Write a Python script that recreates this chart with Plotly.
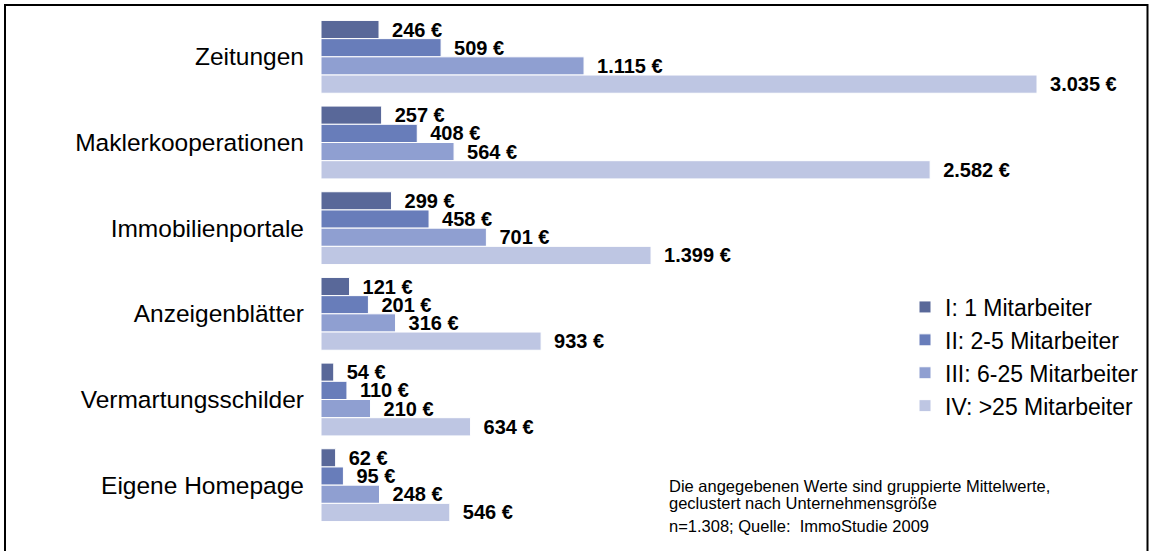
import plotly.graph_objects as go

categories = ["Zeitungen", "Maklerkooperationen", "Immobilienportale",
              "Anzeigenblätter", "Vermartungsschilder", "Eigene Homepage"]
series_names = ["I: 1 Mitarbeiter", "II: 2-5 Mitarbeiter",
                "III: 6-25 Mitarbeiter", "IV: >25 Mitarbeiter"]
s1 = [246, 257, 299, 121, 54, 62]
s2 = [509, 408, 458, 201, 110, 95]
s3 = [1115, 564, 701, 316, 210, 248]
s4 = [3035, 2582, 1399, 933, 634, 546]
colors = ["rgb(89,104,153)", "rgb(104,125,186)", "rgb(143,159,209)", "rgb(190,198,227)"]

note_lines = ["Die angegebenen Werte sind gruppierte Mittelwerte,",
              "geclustert nach Unternehmensgröße",
              "n=1.308; Quelle:  ImmoStudie 2009"]

FONT = "Liberation Sans, Arial, sans-serif"
W, H = 1149, 551
# plot area in page pixels: x 321..1147, y 14..528
ML = 321
MR = W - 1147
MT = 14
MB = H - 528
PW, PH = W - ML - MR, H - MT - MB


def fmt(v):
    return "\u2002" + f"{v:,}".replace(",", ".") + " €"


def px_x(p):
    return (p - ML) / PW


def px_y(p):
    return (H - MB - p) / PH


fig = go.Figure()
for name, vals, col in zip(series_names, [s1, s2, s3, s4], colors):
    fig.add_trace(go.Bar(
        y=categories, x=vals, name=name, orientation="h",
        marker=dict(color=col, line=dict(color="white", width=1)),
        text=[fmt(v) for v in vals], textposition="outside",
        textfont=dict(family=FONT, size=20, color="black", weight="bold"),
        constraintext="none", cliponaxis=False,
    ))

fig.update_layout(
    width=W, height=H,
    margin=dict(l=ML, r=MR, t=MT, b=MB),
    paper_bgcolor="white", plot_bgcolor="white",
    barmode="group", bargap=0.15, bargroupgap=0,
    font=dict(family=FONT, color="black"),
    xaxis=dict(range=[0, 3035 * 826 / 716], visible=False, showgrid=False, zeroline=False),
    yaxis=dict(autorange="reversed", showgrid=False, zeroline=False, showline=False,
               ticks="", tickfont=dict(family=FONT, size=24.5, color="black"),
               ticklabelstandoff=16),
    legend=dict(x=px_x(905), y=px_y(356.5), xanchor="left", yanchor="middle",
                font=dict(family=FONT, size=23, color="black"),
                bgcolor="rgba(0,0,0,0)", borderwidth=0),
    showlegend=True,
)

for line, yc in zip(note_lines, [485.5, 502.5, 525.5]):
    fig.add_annotation(text=line, xref="paper", yref="paper", x=px_x(667), y=px_y(yc),
                       xanchor="left", yanchor="middle", align="left", showarrow=False,
                       font=dict(family=FONT, size=16.5, color="black"))

fig.add_shape(type="rect", xref="paper", yref="paper",
              x0=px_x(5), x1=px_x(1147.5), y0=px_y(5), y1=px_y(580),
              line=dict(color="black", width=2), fillcolor="rgba(0,0,0,0)", layer="above")

fig.write_html("out.html",
               config={"displayModeBar": False},
               post_script="document.body.style.margin='0';document.body.style.overflow='hidden';")
